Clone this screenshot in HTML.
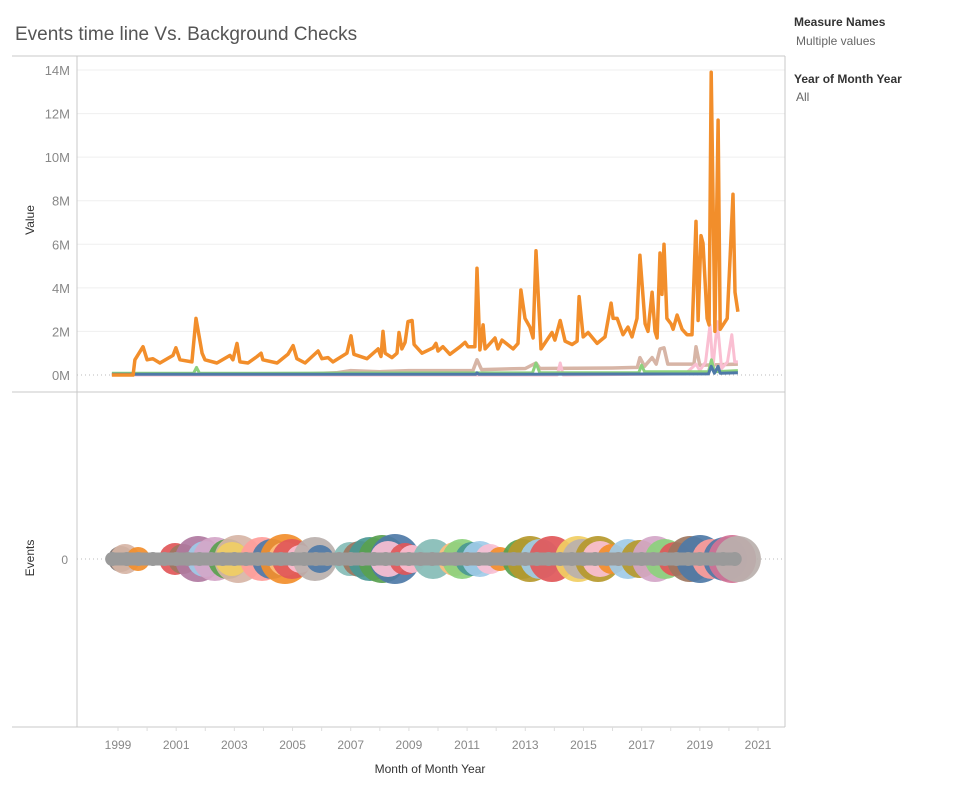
<!DOCTYPE html>
<html><head><meta charset="utf-8">
<style>
body{margin:0;background:#fff;font-family:"Liberation Sans",sans-serif;}
svg{display:block}
text{font-family:"Liberation Sans",sans-serif}
</style></head>
<body>
<svg id="c" width="958" height="797" viewBox="0 0 958 797">
<text x="15" y="40" font-size="19" fill="#555">Events time line Vs. Background Checks</text>
<g>
<text x="794" y="26" font-size="12" font-weight="bold" fill="#333">Measure Names</text>
<text x="796" y="45" font-size="12" fill="#666">Multiple values</text>
<text x="794" y="83" font-size="12" font-weight="bold" fill="#333">Year of Month Year</text>
<text x="796" y="101" font-size="12" fill="#666">All</text>
</g>
<g id="grid"></g>
<g id="toppane"></g>
<g id="bottompane"></g>
<g id="frame"></g>
</svg>
<script>
// ---- data ----
const orangeDates=[1998.79,1999.52,1999.58,1999.86,2000.00,2000.20,2000.44,2000.89,2000.99,2001.13,2001.54,2001.68,2001.89,2001.99,2002.40,2002.85,2002.95,2003.09,2003.19,2003.47,2003.78,2003.92,2003.98,2004.47,2004.84,2005.02,2005.15,2005.43,2005.88,2006.01,2006.22,2006.39,2006.87,2007.01,2007.11,2007.56,2007.94,2008.04,2008.11,2008.18,2008.42,2008.59,2008.66,2008.76,2008.87,2008.97,2009.11,2009.18,2009.45,2009.83,2009.93,2010.00,2010.17,2010.41,2010.76,2010.93,2011.03,2011.27,2011.34,2011.44,2011.55,2011.62,2011.96,2012.06,2012.20,2012.58,2012.75,2012.85,2012.99,2013.16,2013.27,2013.37,2013.54,2013.92,2014.02,2014.20,2014.37,2014.61,2014.78,2014.85,2014.99,2015.16,2015.47,2015.74,2015.95,2016.02,2016.16,2016.36,2016.53,2016.67,2016.84,2016.94,2017.12,2017.22,2017.36,2017.46,2017.53,2017.63,2017.70,2017.77,2017.87,2018.01,2018.08,2018.22,2018.39,2018.56,2018.73,2018.87,2018.94,2019.04,2019.11,2019.25,2019.32,2019.39,2019.52,2019.63,2019.70,2019.94,2020.04,2020.14,2020.21,2020.31];
const orangeValues=[0,0,0.7,1.3,0.7,0.75,0.55,0.9,1.25,0.7,0.6,2.6,1.0,0.7,0.55,0.9,0.7,1.45,0.6,0.55,0.85,1.0,0.7,0.55,0.95,1.35,0.75,0.55,1.1,0.75,0.8,0.6,1.0,1.8,0.95,0.75,1.2,0.85,2.0,1.0,0.8,1.0,1.95,1.2,1.5,2.45,2.5,1.4,1.0,1.25,1.45,1.1,1.3,0.95,1.3,1.5,1.3,1.3,4.9,1.15,2.3,1.2,1.7,1.2,1.6,1.2,1.45,3.9,2.6,2.2,1.7,5.7,1.2,1.95,1.6,2.5,1.55,1.4,1.55,3.6,1.75,1.95,1.45,1.75,3.3,2.6,2.6,1.85,2.2,1.75,2.6,5.5,2.35,2.0,3.8,2.0,1.7,5.6,3.7,6.0,2.6,2.35,2.1,2.75,2.1,1.85,1.85,7.05,2.5,6.4,6.05,2.6,2.3,13.9,2.0,11.7,2.1,2.6,5.4,8.3,3.8,2.9];
const tanDates=[1998.79,2005.5,2006.5,2007.0,2008.0,2009.0,2010.0,2011.2,2011.34,2011.5,2013.0,2013.37,2013.5,2016.0,2016.85,2016.94,2017.1,2017.36,2017.5,2017.63,2017.77,2017.9,2018.8,2018.87,2019.0,2020.31];
const tanValues=[0.02,0.05,0.1,0.2,0.15,0.2,0.2,0.2,0.7,0.25,0.3,0.55,0.3,0.32,0.35,0.8,0.4,0.8,0.5,1.2,1.25,0.5,0.5,1.3,0.45,0.5];
const pinkDates=[1998.79,2014.1,2014.2,2014.3,2018.5,2018.87,2019.0,2019.2,2019.35,2019.45,2019.6,2019.75,2019.95,2020.1,2020.2,2020.31];
const pinkValues=[0,0,0.55,0,0.05,0.5,0.2,0.6,2.3,0.3,2.45,0.3,0.6,1.85,0.6,0.6];
const greenDates=[1998.79,2001.6,2001.7,2001.8,2013.25,2013.37,2013.5,2016.9,2017.0,2017.1,2019.3,2019.4,2019.5,2020.31];
const greenValues=[0.08,0.08,0.35,0.08,0.1,0.55,0.1,0.1,0.45,0.15,0.15,0.7,0.15,0.2];
const blueDates=[1998.79,2011.3,2011.34,2011.4,2019.3,2019.39,2019.5,2019.63,2019.7,2020.31];
const blueValues=[0.03,0.03,0.1,0.03,0.05,0.4,0.08,0.4,0.08,0.1];
const yTicks=[0,2,4,6,8,10,12,14];
const xTicks=[1999,2001,2003,2005,2007,2009,2011,2013,2015,2017,2019,2021];
const bubbleDates=[1999.1,1999.24,1999.69,2000.96,2001.23,2001.75,2001.99,2002.33,2002.78,2003.13,2002.92,2003.95,2004.29,2004.74,2004.74,2004.98,2005.26,2005.77,2005.94,2006.98,2007.32,2007.66,2008.08,2008.52,2008.28,2008.87,2009.11,2009.83,2010.58,2010.83,2011.17,2011.44,2011.79,2012.13,2012.89,2013.16,2013.51,2013.92,2014.81,2014.95,2015.50,2015.57,2015.98,2016.53,2016.94,2017.46,2017.80,2018.15,2018.66,2019.01,2019.42,2019.87,2020.11,2020.31];
const bubbleSizes=[13,15,12,16,15,23,18,22,20,24,17,22,20,25,17,20,14,22,14,17,18,22,24,25,18,16,14,20,17,20,17,18,15,12,20,23,20,23,23,20,23,18,15,20,19,23,20,17,23,24,20,22,24,23];
const bubbleColors=[12,19,2,10,18,16,1,17,4,19,7,11,0,2,3,10,15,13,0,9,18,8,4,0,15,10,15,9,3,5,8,1,15,2,4,6,1,10,7,13,6,15,2,1,6,17,5,10,18,0,11,0,14,13];
const greyDates=[1998.8,1999.3,1999.7,2000.2,2000.6,2001.0,2001.4,2001.8,2002.2,2002.6,2003.0,2003.4,2003.8,2004.2,2004.6,2005.0,2005.4,2005.8,2006.2,2006.6,2007.0,2007.4,2007.8,2008.2,2008.6,2009.0,2009.4,2009.8,2010.2,2010.6,2011.0,2011.4,2011.8,2012.2,2012.6,2013.0,2013.4,2013.8,2014.2,2014.6,2015.0,2015.4,2015.8,2016.2,2016.6,2017.0,2017.4,2017.8,2018.2,2018.6,2019.0,2019.4,2019.8,2020.2];
const palette=["#4e79a7","#a0cbe8","#f28e2b","#ffbe7d","#59a14f","#8cd17d","#b6992d","#f1ce63","#499894","#86bcb6","#e15759","#ff9d9a","#79706e","#bab0ac","#d37295","#fabfd2","#b07aa1","#d4a6c8","#9d7660","#d7b5a6"];

// ---- scales ----
const NS="http://www.w3.org/2000/svg";
const xS=d=>118+(d-1999)*(640/22);
const yTop=v=>375-v*(305/14);
const yBot0=559;
function mk(tag,attrs,parent){const e=document.createElementNS(NS,tag);for(const k in attrs)e.setAttribute(k,attrs[k]);parent.appendChild(e);return e;}
const gridG=document.getElementById('grid'),topG=document.getElementById('toppane'),botG=document.getElementById('bottompane'),frameG=document.getElementById('frame');

yTicks.forEach(t=>{
  if(t>0){const g=mk('line',{x1:77,x2:785,y1:yTop(t),y2:yTop(t),stroke:'#efefef','stroke-width':1},gridG);
  
  }
  const tx=mk('text',{x:70,y:yTop(t)+5,'font-size':13,fill:'#888','text-anchor':'end'},gridG);
  tx.textContent=t+'M';
  
  
});
[yTop(0),yBot0].forEach((y,i)=>{
  const z=mk('line',{x1:77,x2:785,y1:y,y2:y,stroke:'#bbb','stroke-dasharray':'1,3'},gridG);
  
  
});

function series(dates,vals,color,w,name){
  const d=dates.map((t,i)=>(i?'L':'M')+xS(t).toFixed(1)+','+yTop(vals[i]).toFixed(1)).join('');
  const p=mk('path',{d:d,fill:'none',stroke:color,'stroke-width':w,'stroke-linejoin':'round'},topG);
  
  
}
series(tanDates,tanValues,'#d7b5a6',3.5,'line-tan');
series(pinkDates,pinkValues,'#fabfd2',3,'line-pink');
series(greenDates,greenValues,'#8cd17d',3,'line-green');
series(blueDates,blueValues,'#4e79a7',3,'line-blue');
series(orangeDates,orangeValues,'#f28e2b',3.5,'line-background-checks');

bubbleDates.forEach((d,i)=>{
  const c=mk('circle',{cx:xS(d),cy:yBot0,r:bubbleSizes[i],fill:palette[bubbleColors[i]],'fill-opacity':0.92},botG);
  
  
});
const band=mk('line',{x1:xS(greyDates[0]),x2:xS(greyDates[greyDates.length-1]),y1:yBot0,y2:yBot0,stroke:'#9a9a9a','stroke-width':13},botG);


greyDates.forEach(d=>{
  const c=mk('circle',{cx:xS(d),cy:yBot0,r:7,fill:'#9a9a9a'},botG);
  
  
});

// frame
[[12,785,56,56],[12,785,392,392],[12,785,727,727],[77,77,56,727],[785,785,56,727]].forEach(l=>{
  const e=mk('line',{x1:l[0],x2:l[1],y1:l[2],y2:l[3],stroke:'#c8c8c8','stroke-width':1},frameG);
  
  
});
for(let y=1999;y<=2021;y++){
  const tk=mk('line',{x1:xS(y),x2:xS(y),y1:727,y2:731,stroke:'#ddd'},frameG);
  
  
}
xTicks.forEach(t=>{
  const tx=mk('text',{x:xS(t),y:749,'font-size':12,fill:'#888','text-anchor':'middle'},frameG);
  tx.textContent=t;
  
  
});
const z0=mk('text',{x:68,y:564,'font-size':12,fill:'#888','text-anchor':'end'},frameG);
z0.textContent='0';


const xt=mk('text',{x:430,y:773,'font-size':12,fill:'#333','text-anchor':'middle'},frameG);
xt.textContent='Month of Month Year';


const yt1=mk('text',{x:0,y:0,'font-size':12,fill:'#333','text-anchor':'middle',transform:'translate(34,220) rotate(-90)'},frameG);
yt1.textContent='Value';


const yt2=mk('text',{x:0,y:0,'font-size':12,fill:'#333','text-anchor':'middle',transform:'translate(34,558) rotate(-90)'},frameG);
yt2.textContent='Events';


</script>
</body></html>
